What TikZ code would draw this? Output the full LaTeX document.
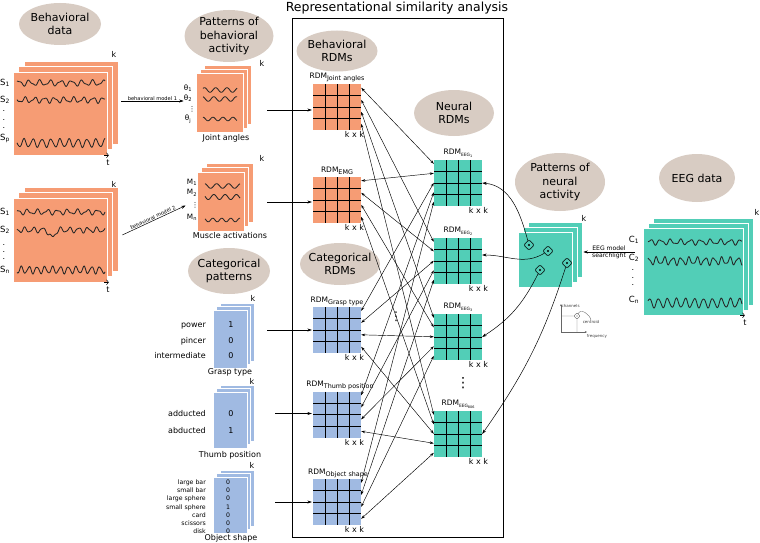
\documentclass[tikz,border=0pt]{standalone}
\usepackage{fontspec}
\setmainfont{DejaVu Sans}
\usetikzlibrary{shapes.geometric,arrows.meta,calc}
\definecolor{beige}{RGB}{216,204,195}
\definecolor{org}{RGB}{246,156,116}
\definecolor{tealc}{RGB}{82,206,183}
\definecolor{blu}{RGB}{160,186,226}
\newcommand\fs[1]{\fontsize{#1}{#1}\selectfont}
\newcommand\rdmsub[1]{RDM\raisebox{-1.8pt}{\fontsize{6.4}{7}\selectfont #1}}
\newcommand\eegsub[1]{RDM\raisebox{-1.8pt}{\fontsize{4.4}{5}\selectfont EEG\raisebox{-0.9pt}{\fontsize{3.4}{4}\selectfont #1}}}
\newcommand\mkstack[7]{%
  \filldraw[fill=#2,draw=white,line width=0.6pt] ({#3+2*#7},{#4-2*#7}) rectangle ({#5+2*#7},{#6-2*#7});
  \filldraw[fill=#2,draw=white,line width=0.6pt] ({#3+#7},{#4-#7}) rectangle ({#5+#7},{#6-#7});
  \node[fill=#2,draw=white,line width=0.6pt,inner sep=0pt,
        minimum width={(#5-#3)*1pt},minimum height={(#6-#4)*1pt}] (#1) at ({(#3+#5)/2},{(#4+#6)/2}) {};}
\newcommand\wave[4]{\draw[wv,shift={(#1,0)}] plot[domain=#2:#3,samples=150,smooth] (\x,{#4});}
\tikzset{
  ell/.style={ellipse,fill=beige,inner sep=0pt},
  elltxt/.style={align=center,font=\fontsize{11}{13.5}\selectfont,inner sep=0pt},
  wv/.style={line width=0.85pt,black!85},
  rdm/.style={fill=#1,inner sep=0pt,minimum width=48pt,minimum height=46pt,
    path picture={
      \foreach \f in {0.25,0.5,0.75}{
        \draw[line width=0.55pt] ($(path picture bounding box.north west)!\f!(path picture bounding box.north east)$) -- ($(path picture bounding box.south west)!\f!(path picture bounding box.south east)$);
        \draw[line width=0.55pt] ($(path picture bounding box.north west)!\f!(path picture bounding box.south west)$) -- ($(path picture bounding box.north east)!\f!(path picture bounding box.south east)$);
      }}},
  rlab/.style={font=\fontsize{7.5}{8}\selectfont,inner sep=0pt,anchor=south},
  kxk/.style={font=\fs{8},inner sep=0pt,anchor=north east},
  klab/.style={font=\fs{8},inner sep=0pt},
  lab/.style={font=\fs{8.5},inner sep=0pt},
  slab/.style={font=\fs{7.3},inner sep=0pt},
  sub/.style={font=\fs{8},inner sep=0pt},
  tiny/.style={font=\fs{6.2},inner sep=0pt},
  tinyt/.style={font=\fs{4},inner sep=0pt,text=black!75},
  dots/.style={align=center,inner sep=0pt},
  arr/.style={-{Stealth[length=4.5pt,width=3pt]},line width=0.5pt},
  biarr/.style={{Stealth[length=4pt,width=2.6pt]}-{Stealth[length=4pt,width=2.6pt]},line width=0.45pt},
  tarr/.style={-{Straight Barb[length=2pt,width=5pt]},line width=0.5pt},
  dia/.style={draw,fill=tealc,rectangle,rounded corners=1.5pt,minimum size=7.5pt,inner sep=0pt,rotate=45,line width=0.6pt},
  inset/.style={draw=black!60,line width=0.35pt},
}
\begin{document}
\begin{tikzpicture}[x=1pt,y=-1pt]
\useasboundingbox (0,0) rectangle (760,543);

% title and frame
\node[font=\fs{12.5},inner sep=0pt] (title) at (397,8) {Representational similarity analysis};
\node[draw,line width=0.9pt,inner sep=0pt,minimum width=211pt,minimum height=519pt] (rsa) at (397.5,277.5) {};

% ellipses
\node[ell,minimum width=82pt,minimum height=42pt] (bd) at (60,24) {};
\node[elltxt] (bdt) at (bd) {Behavioral\\data};
\node[ell,minimum width=89pt,minimum height=52pt] (pba) at (229,36) {};
\node[elltxt] (pbat) at (pba) {Patterns of\\behavioral\\activity};
\node[ell,minimum width=81pt,minimum height=41pt] (brdm) at (337,51) {};
\node[elltxt] (brdmt) at (brdm) {Behavioral\\RDMs};
\node[ell,minimum width=80pt,minimum height=46pt] (nrdm) at (454,113) {};
\node[elltxt] (nrdmt) at (nrdm) {Neural\\RDMs};
\node[ell,minimum width=82pt,minimum height=46pt] (cp) at (229,271) {};
\node[elltxt] (cpt) at (cp) {Categorical\\patterns};
\node[ell,minimum width=80pt,minimum height=42pt] (crdm) at (340,264) {};
\node[elltxt] (crdmt) at (crdm) {Categorical\\RDMs};
\node[ell,minimum width=90pt,minimum height=58pt] (pna) at (560,182) {};
\node[elltxt] (pnat) at (pna) {Patterns of\\neural\\activity};
\node[ell,minimum width=76pt,minimum height=48pt] (eegd) at (697,178) {};
\node[elltxt] (eegdt) at (eegd) {EEG data};

% stacks
\mkstack{bd1}{org}{13}{72}{107}{155}{5.5}
\mkstack{bd2}{org}{13}{198}{107}{282}{5.5}
\mkstack{ja}{org}{196}{73}{243}{132}{4}
\mkstack{ma}{org}{197}{172}{244}{231}{4.5}
\mkstack{gt}{blu}{213}{310}{247}{368}{3.5}
\mkstack{tp}{blu}{213}{392}{247}{448}{3.5}
\mkstack{os}{blu}{213}{477}{247}{533}{3.5}
\mkstack{na}{tealc}{518}{232}{572}{287}{5}
\mkstack{ed}{tealc}{643}{228}{743}{315}{5}

% k and t labels
\node[klab] (bd1k) at (114,54) {k};
\node[klab] (bd2k) at (114,184) {k};
\node[klab] (jak) at (262,63) {k};
\node[klab] (mak) at (262,158) {k};
\node[klab] (gtk) at (253,298) {k};
\node[klab] (tpk) at (252,381) {k};
\node[klab] (osk) at (252,465) {k};
\node[klab] (nak) at (584,218) {k};
\node[klab] (edk) at (757,212) {k};
\node[klab] (bd1t) at (108,163) {t};
\node[klab] (bd2t) at (108,290) {t};
\node[klab] (edt) at (745,323) {t};
\foreach \nn in {bd1,bd2,ed}
  \draw[tarr] ($(\nn.south east)+(-3,0)$) -- ($(\nn.south east)+(1.5,0)$);

% waves
\wave{0}{17}{105}{83+2.4*sin(34*\x)+1.0*sin(61*\x+20)}
\wave{0}{17}{105}{100+2.4*sin(37*\x+60)+1.0*sin(67*\x)}
\wave{0}{17}{105}{143+4*sin(40*\x+30)+0.6*sin(71*\x)}
\wave{0}{17}{105}{212+2.2*sin(36*\x)+1.0*sin(63*\x+50)}
\wave{0}{17}{105}{230+2.4*sin(40*\x)+0.8*sin(70*\x)+8*exp(-(\x-52)*(\x-52)/12)}
\wave{0}{17}{105}{270+3.4*sin(46*\x+10)+0.7*sin(80*\x)}
\wave{196}{7}{41}{90+2.3*sin(32*\x)}
\wave{196}{7}{41}{99+2.3*sin(32*\x+60)}
\wave{196}{7}{41}{119+1.8*sin(36*\x+20)}
\wave{197}{8}{43}{186+2.3*sin(30*\x+40)}
\wave{197}{8}{43}{197+2.5*sin(32*\x+90)}
\wave{197}{8}{43}{220+1.8*sin(40*\x)}
\wave{643}{5}{99}{242+2.3*sin(36*\x)+1.0*sin(63*\x+30)}
\wave{643}{5}{99}{261+3.4*sin(44*\x+40)+1.2*sin(77*\x)}
\wave{643}{5}{99}{303+4.5*sin(40*\x+10)+0.6*sin(73*\x)}

% row labels
\node[lab] (b1s1) at (5,83) {S\textsubscript{1}};
\node[lab] (b1s2) at (5,100) {S\textsubscript{2}};
\node[dots,font=\fontsize{8}{8.5}\selectfont] (b1d) at (4,120) {.\\.\\.};
\node[lab] (b1sp) at (5,138) {S\textsubscript{p}};
\node[lab] (b2s1) at (5,212) {S\textsubscript{1}};
\node[lab] (b2s2) at (5,230) {S\textsubscript{2}};
\node[dots,font=\fontsize{8}{7}\selectfont] (b2d) at (4,252) {.\\.\\.};
\node[lab] (b2sn) at (5,270) {S\textsubscript{n}};
\node[slab] (th1) at (188,88) {θ\textsubscript{1}};
\node[slab] (th2) at (188,98.5) {θ\textsubscript{2}};
\node[inner sep=0pt,font=\fs{7}] (thd) at (192,109.5) {⋮};
\node[slab] (thj) at (188,119) {θ\textsubscript{j}};
\node[slab] (m1) at (192,182) {M\textsubscript{1}};
\node[slab] (m2) at (192,193) {M\textsubscript{2}};
\node[inner sep=0pt,font=\fs{7}] (md) at (195,205.5) {⋮};
\node[slab] (mn) at (192,217) {M\textsubscript{n}};
\node[lab] (c1) at (634,240) {C\textsubscript{1}};
\node[lab] (c2) at (634,258) {C\textsubscript{2}};
\node[dots,font=\fontsize{8}{7.5}\selectfont] (cd) at (633,278) {.\\.\\.};
\node[lab] (cn) at (634,300) {C\textsubscript{n}};

% categorical labels and values
\foreach \lab/\yy [count=\n] in {power/324,pincer/340,intermediate/355}
  \node[sub,anchor=base east] (gl\n) at (206,\yy+3) {\lab};
\foreach \v/\yy [count=\n] in {1/324,0/340,0/355}
  \node[sub,anchor=base] (gv\n) at (231,\yy+3) {\v};
\foreach \lab/\yy [count=\n] in {adducted/413,abducted/430}
  \node[sub,anchor=base east] (tl\n) at (206,\yy+3) {\lab};
\foreach \v/\yy [count=\n] in {0/413,1/430}
  \node[sub,anchor=base] (tv\n) at (231,\yy+3) {\v};
\foreach \lab/\yy [count=\n] in {large bar/482,small bar/490,large sphere/498,small sphere/507,card/515,scissors/523,disk/531}
  \node[tiny,anchor=base east] (ol\n) at (206,\yy+2.3) {\lab};
\foreach \v/\yy [count=\n] in {0/482,0/490,0/498,1/507,0/515,0/523,0/531}
  \node[tiny,anchor=base] (ov\n) at (228,\yy+2.3) {\v};

% captions
\node[sub] (jat) at (226,138) {Joint angles};
\node[sub] (mat) at (230,236) {Muscle activations};
\node[sub] (gtt) at (230,372) {Grasp type};
\node[sub] (tpt) at (230,455) {Thumb position};
\node[sub] (ost) at (231,538) {Object shape};

% RDMs
\node[rdm=org] (rja) at (337,107) {};
\node[rdm=org] (remg) at (337,200) {};
\node[rdm=blu] (rgt) at (337,330) {};
\node[rdm=blu] (rtp) at (337,414.5) {};
\node[rdm=blu] (ros) at (337,502) {};
\node[rdm=tealc] (re1) at (458,183) {};
\node[rdm=tealc] (re2) at (458,261) {};
\node[rdm=tealc] (re3) at (458,337) {};
\node[rdm=tealc] (re4) at (458,434) {};
\node[rlab] (rjal) at ([yshift=2pt]rja.north) {\rdmsub{Joint angles}};
\node[rlab] (reml) at ([yshift=2pt]remg.north) {\rdmsub{EMG}};
\node[rlab] (rgtl) at ([yshift=1pt]rgt.north) {\rdmsub{Grasp type}};
\node[rlab] (rtpl) at ([xshift=3pt,yshift=1pt]rtp.north) {\rdmsub{Thumb position}};
\node[rlab] (rosl) at ([xshift=1pt,yshift=1pt]ros.north) {\rdmsub{Object shape}};
\node[rlab] (re1l) at ([yshift=2pt]re1.north) {\eegsub{1}};
\node[rlab] (re2l) at ([yshift=2pt]re2.north) {\eegsub{2}};
\node[rlab] (re3l) at ([yshift=2pt]re3.north) {\eegsub{3}};
\node[rlab] (re4l) at ([yshift=2pt]re4.north) {\eegsub{806}};
\foreach \g in {rja,remg,rgt,rtp,ros}
  \node[kxk] (\g k) at ([xshift=3pt,yshift=-1.5pt]\g.south east) {k x k};
\foreach \g in {re1,re2,re3,re4}
  \node[kxk] (\g k) at ([xshift=6pt,yshift=-1.5pt]\g.south east) {k x k};
\node[inner sep=0pt,font=\fs{12}] (vd1) at (396,317) {⋮};
\node[inner sep=0pt,font=\fs{14}] (vd2) at (463,383) {⋮};

% arrows into RDMs
\draw[arr] ($(ja.east |- rja.west)+(24,3)$) -- ($(rja.west)+(-1,3)$);
\draw[arr] ($(ma.east |- remg.west)+(23,2)$) -- ($(remg.west)+(-1,2)$);
\draw[arr] ($(gt.east |- rgt.west)+(20,0)$) -- ($(rgt.west)+(-1,0)$);
\draw[arr] ($(tp.east |- rtp.west)+(28,-1)$) -- ($(rtp.west)+(-1,-1)$);
\draw[arr] ($(os.east |- ros.west)+(28,0)$) -- ($(ros.west)+(-1,0)$);

% model arrows
\draw[arr] ($(bd1.east |- ja.west)+(14,-1.5)$) -- node[above,inner sep=0.6pt,font=\fs{5.1}] (bm1) {behavioral model 1} ($(ja.west)+(-12,-1.5)$);
\draw[arr] ($(bd2.east)+(15,-5)$) -- node[above,sloped,inner sep=0.6pt,font=\fs{5.1}] (bm2) {behavioral model 2} ($(ma.west)+(-11,4)$);
\draw[arr] ($(ed.west)+(-8,-19.5)$) -- node[above,inner sep=0.8pt,font=\fs{6.1}] (em1) {EEG model} node[below,inner sep=0.8pt,font=\fs{6.1}] (em2) {searchlight} ($(na.east)+(11,-7.5)$);

% RDM comparisons
\foreach \sr [count=\ii from 0] in {rja,remg,rgt,rtp,ros}{
  \foreach \tg [count=\jj from 0] in {re1,re2,re3,re4}{
    \draw[biarr] ([yshift={-(4+12*\jj)*1pt}]\sr.north east) -- ([yshift={-(4+9.5*\ii)*1pt}]\tg.north west);
  }
}

% searchlight points
\node[dia] (d1) at (529,245) {};
\node[dia] (d2) at (548,251) {};
\node[dia] (d3) at (540,270) {};
\node[dia] (d4) at (567,263) {};
\foreach \dd in {d1,d2,d3,d4} \fill (\dd) circle (1.2pt);
\draw[arr] (d1) to[out=100,in=-5] (re1.east);
\draw[arr] (d2) to[out=205,in=0] ([yshift=6pt]re2.east);
\draw[arr] (d3) to[out=238,in=33] (re3.east);
\draw[arr] (d4) to[out=250,in=55] (re4.east);

% inset
\coordinate (io) at (561,332);
\coordinate (iy) at (561,304);
\coordinate (ix) at (587,332);
\draw[inset,-{Stealth[length=2.2pt,width=2pt]}] (io) -- (iy);
\draw[inset,-{Stealth[length=2.2pt,width=2pt]}] (io) -- (ix);
\node[tinyt,anchor=west] (ich) at (561.5,306) {channels};
\node[tinyt] (ifr) at (597,336) {frequency};
\node[tinyt] (icn) at (591,322) {centroid};
\node[dia,draw=black!60,fill=white,minimum size=4.5pt,line width=0.35pt,rounded corners=0.8pt] (icd) at (577,316) {};
\fill[black!60] (icd) circle (0.6pt);
\coordinate (ih) at (561,316);
\coordinate (iv) at (577,332);
\draw[inset] (ih) -- (icd);
\draw[inset] (icd) -- (iv);
\draw[inset] (icd) to[out=50,in=100] (icn.north);
\end{tikzpicture}
\end{document}
